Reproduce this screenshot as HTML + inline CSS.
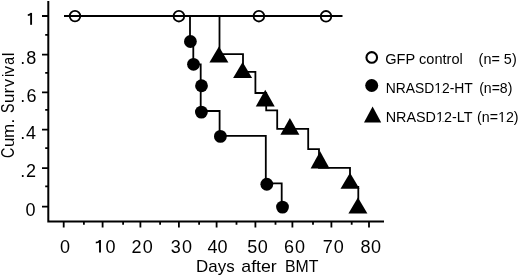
<!DOCTYPE html>
<html><head><meta charset="utf-8"><style>
html,body{margin:0;padding:0;background:#fff;width:520px;height:278px;overflow:hidden}
svg{display:block;will-change:transform;filter:blur(0.35px)}
text{font-family:"Liberation Sans",sans-serif;fill:#000}
</style></head><body>
<svg width="520" height="278" viewBox="0 0 520 278">
<g fill="none" stroke="#000" stroke-linecap="butt" stroke-linejoin="miter">
<path d="M48.3,1 V221.5 H384" stroke-width="2"/>
<path d="M42,16 H48 M42,54.7 H48 M42,92.4 H48 M42,129.7 H48 M42,168.1 H48 M42,206.6 H48" stroke-width="1.8"/>
<path d="M45.2,34.9 H48 M45.2,72.9 H48 M45.2,109.9 H48 M45.2,148.1 H48 M45.2,186.4 H48" stroke-width="1.8"/>
<path d="M63.7,222 V227.5 M102.6,222 V227.5 M140.4,222 V227.5 M178.9,222 V227.5 M216.6,222 V227.5 M255.4,222 V227.5 M292.4,222 V227.5 M331.4,222 V227.5 M369,222 V227.5" stroke-width="1.8"/>
<path d="M83.9,222 V224.7 M123.1,222 V224.7 M160.1,222 V224.7 M199.1,222 V224.7 M236.5,222 V224.7 M275.5,222 V224.7 M313,222 V224.7 M351.7,222 V224.7" stroke-width="1.8"/>
<path d="M64,16 H342.5" stroke-width="1.8"/>
<path d="M190,16 V41.5 H193.3 V64.3 H200.7 V111 H219.6 V135.9 H265.8 V183.4 H281.7 V207" stroke-width="1.8"/>
<path d="M219.5,16 V54.1 H243 V71.9 H255.4 V93 H266.2 V110.4 H277.2 V128.9 H308.2 V149.2 H319 V167.9 H350 V187 H358.3 V204" stroke-width="1.8"/>
<circle cx="75" cy="16.1" r="5.3" stroke-width="1.8"/>
<circle cx="178.9" cy="16.2" r="5.3" stroke-width="1.8"/>
<circle cx="258.9" cy="16.2" r="5.3" stroke-width="1.8"/>
<circle cx="326" cy="16.3" r="5.3" stroke-width="1.8"/>
<circle cx="371.75" cy="57.4" r="5.3" stroke-width="2.1"/>
<path d="M31.10,12.90 V24.80" stroke-width="1.9"/><path d="M30.80,13.50 Q29.90,15.00 27.80,15.20" stroke-width="1.7"/>
<path d="M100.00,239.90 V252.60" stroke-width="1.9"/><path d="M99.70,240.50 Q98.80,242.50 95.80,242.70" stroke-width="1.7"/>
</g>
<g fill="#000">
<circle cx="190.4" cy="41.5" r="6.4"/>
<circle cx="193.5" cy="64.3" r="6.4"/>
<circle cx="201.5" cy="85.75" r="6.4"/>
<circle cx="201.4" cy="112.1" r="6.4"/>
<circle cx="220.4" cy="136.4" r="6.4"/>
<circle cx="266.8" cy="184.25" r="6.4"/>
<circle cx="282.5" cy="207.1" r="6.4"/>
<path d="M218.9,46.5 L228.4,62.5 L209.4,62.5 Z"/>
<path d="M242.6,62 L252.1,78 L233.1,78 Z"/>
<path d="M265.25,89.7 L274.75,106.5 L255.75,106.5 Z"/>
<path d="M289.9,117.9 L299.4,134.8 L280.4,134.8 Z"/>
<path d="M320.1,151.3 L329.6,168.5 L310.6,168.5 Z"/>
<path d="M350,172.8 L359.5,188.8 L340.5,188.8 Z"/>
<path d="M357.9,197.5 L367.4,213.5 L348.4,213.5 Z"/>
<circle cx="371.7" cy="85.5" r="6.5"/>
<path d="M372.6,106.5 L381.2,122.5 L364,122.5 Z"/>
</g>
<g font-size="18">
<text x="20.36" y="63.5">.</text><text x="26.32" y="63.5">8</text>
<text x="20.16" y="101.6">.</text><text x="26.39" y="101.6">6</text>
<text x="20.16" y="138.5">.</text><text x="25.89" y="138.5">4</text>
<text x="20.16" y="177.2">.</text><text x="25.89" y="177.2">2</text>
<text x="25.6" y="215.8">0</text>
<text x="60.1" y="252.6">0</text>
<text x="105.55" y="252.6">0</text>
<text x="131.59" y="252.6">2</text><text x="142.8" y="252.6">0</text>
<text x="170.81" y="252.6">3</text><text x="181.9" y="252.6">0</text>
<text x="207.39" y="252.6">4</text><text x="217.6" y="252.6">0</text>
<text x="247.18" y="252.6">5</text><text x="257.8" y="252.6">0</text>
<text x="283.99" y="252.6">6</text><text x="295.0" y="252.6">0</text>
<text x="322.78" y="252.6">7</text><text x="333.8" y="252.6">0</text>
<text x="360.42" y="252.6">8</text><text x="371.0" y="252.6">0</text>
</g>
<g font-size="17">
<text x="196.11" y="271.8" textLength="38.50" lengthAdjust="spacingAndGlyphs">Days</text>
<text x="241.25" y="271.8" textLength="35.55" lengthAdjust="spacingAndGlyphs">after</text>
<text x="284.90" y="271.8" textLength="33.46" lengthAdjust="spacingAndGlyphs">BMT</text>
<g transform="translate(14,0) rotate(-90)">
<text transform="translate(-158.04,0) scale(0.75,1)" font-size="19">C</text>
<text transform="translate(-147.01,0) scale(1,1)" font-size="17">u</text>
<text transform="translate(-137.88,0) scale(1,1)" font-size="17">m</text>
<text transform="translate(-123.46,0) scale(1,1)" font-size="17">.</text>
<text transform="translate(-113.00,0) scale(0.75,1)" font-size="19">S</text>
<text transform="translate(-103.06,0) scale(1,1)" font-size="17">u</text>
<text transform="translate(-93.45,0) scale(1,1)" font-size="17">r</text>
<text transform="translate(-87.09,0) scale(0.95,1)" font-size="17">v</text>
<text transform="translate(-77.23,0) scale(1,1)" font-size="17">i</text>
<text transform="translate(-73.89,0) scale(0.95,1)" font-size="17">v</text>
<text transform="translate(-64.72,0) scale(0.82,1)" font-size="17">a</text>
<text transform="translate(-56.19,0) scale(1,1)" font-size="17">l</text>
</g>
</g>
<g font-size="14.5">
<text x="385.27" y="63.8" textLength="77.50" lengthAdjust="spacingAndGlyphs">GFP control</text>
<text x="478.61" y="63.8" textLength="38.09" lengthAdjust="spacingAndGlyphs">(n= 5)</text>
<text x="385.66" y="93" textLength="87.16" lengthAdjust="spacingAndGlyphs">NRASD12-HT</text>
<text x="479.13" y="93" textLength="33.25" lengthAdjust="spacingAndGlyphs">(n=8)</text>
<text x="385.64" y="122" textLength="86.79" lengthAdjust="spacingAndGlyphs">NRASD12-LT</text>
<text x="477.02" y="122" textLength="41.57" lengthAdjust="spacingAndGlyphs">(n=12)</text>
</g>
<rect x="435.13" y="91.90" width="2.61" height="1.68" fill="#fff"/><rect x="438.97" y="91.90" width="2.54" height="1.68" fill="#fff"/>
<rect x="436.24" y="120.90" width="2.67" height="1.68" fill="#fff"/><rect x="440.17" y="120.90" width="2.59" height="1.68" fill="#fff"/>
<rect x="498.91" y="120.90" width="2.68" height="1.68" fill="#fff"/><rect x="502.84" y="120.90" width="2.60" height="1.68" fill="#fff"/>
</svg>
</body></html>
